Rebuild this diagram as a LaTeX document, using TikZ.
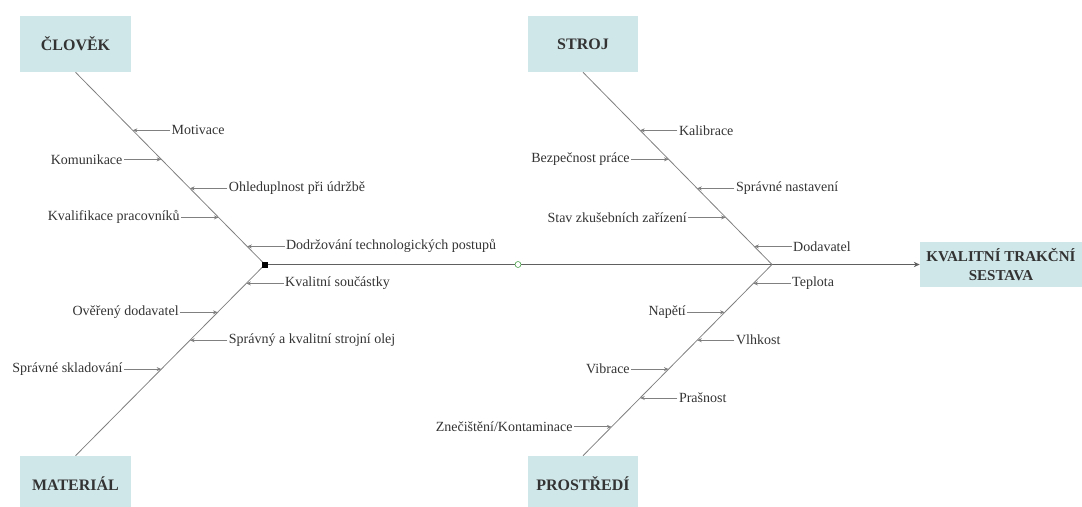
\documentclass[tikz,border=0pt]{standalone}
\usepackage{fontspec}
\setmainfont{Liberation Serif}
\usetikzlibrary{positioning,arrows.meta}

\definecolor{boxteal}{HTML}{D0E7E9}
\definecolor{textgray}{HTML}{333333}
\definecolor{bonegray}{HTML}{808080}
\definecolor{spinegray}{HTML}{606060}
\definecolor{markgreen}{HTML}{3C9A3C}

\begin{document}
\begin{tikzpicture}[x=0.75pt,y=-0.75pt]
    \tikzset{category/.style = {fill=boxteal, text=textgray,
        font=\bfseries\fontsize{12}{14}\selectfont,
        minimum width=83pt, minimum height=42pt, inner sep=0pt},
      cause/.style    = {text=textgray, font=\fontsize{10.5}{12}\selectfont, inner sep=1pt},
      bone/.style     = {draw=bonegray, line width=0.6pt},
      sub/.style      = {draw=bonegray, line width=0.6pt, -{Stealth[length=3.5pt,width=3pt]}},
      spine/.style    = {draw=spinegray, line width=1.1pt, -{Stealth[length=4.5pt,width=4pt]}}}

    \def\Arm{28pt};
    \useasboundingbox (0,0) rectangle (1082,507);

    % Draw the category boxes and the effect.
    \node[category] (clovek)    at (75.5,44)  {ČLOVĚK};
    \node[category] (stroj)     at (583,44)   {STROJ};
    \node[category] (material)  at (75.5,484) {MATERIÁL};
    \node[category] (prostredi) at (583,484)  {PROSTŘEDÍ};
    \node[category, font=\bfseries\fontsize{11.3}{14}\selectfont,
      minimum width=121.5pt, minimum height=34pt, align=center]
      (effect) at (1001,264.5) {KVALITNÍ TRAKČNÍ\\SESTAVA};

    % Draw the spine.
    \coordinate (joint) at (772,264.5);
    \node[fill=black, inner sep=0pt, minimum size=4.5pt] (head) at (265,264.5) {};
    \draw[spine] (head) -- (effect);
    \node[circle, draw=markgreen, fill=white, inner sep=0pt, minimum size=4.5pt] (mark) at (518,264.5) {};

    % Draw the bones.
    \draw[bone] (clovek.south) -- (head.center)
      coordinate[pos=.302] (c1) coordinate[pos=.453] (c2) coordinate[pos=.604] (c3)
      coordinate[pos=.755] (c4) coordinate[pos=.906] (c5);
    \draw[bone] (head.center) -- (material.north)
      coordinate[pos=.099] (m1) coordinate[pos=.25] (m2) coordinate[pos=.396] (m3)
      coordinate[pos=.547] (m4);
    \draw[bone] (stroj.south) -- (joint)
      coordinate[pos=.302] (s1) coordinate[pos=.453] (s2) coordinate[pos=.604] (s3)
      coordinate[pos=.755] (s4) coordinate[pos=.906] (s5);
    \draw[bone] (joint) -- (prostredi.north)
      coordinate[pos=.099] (p1) coordinate[pos=.25] (p2) coordinate[pos=.396] (p3)
      coordinate[pos=.547] (p4) coordinate[pos=.698] (p5) coordinate[pos=.849] (p6);
    \node[fill=black, inner sep=0pt, minimum size=4.5pt] at (head) {};

    % Causes of ČLOVĚK.
    \node[cause, right=\Arm of c1] (motivace) {Motivace};
    \node[cause, left=\Arm of c2]  (komunikace) {Komunikace};
    \node[cause, right=\Arm of c3] (ohleduplnost) {Ohleduplnost při údržbě};
    \node[cause, left=\Arm of c4]  (kvalifikace) {Kvalifikace pracovníků};
    \node[cause, right=\Arm of c5] (postupy) {Dodržování technologických postupů};
    \draw[sub] (motivace) -- (c1);
    \draw[sub] (komunikace) -- (c2);
    \draw[sub] (ohleduplnost) -- (c3);
    \draw[sub] (kvalifikace) -- (c4);
    \draw[sub] (postupy) -- (c5);

    % Causes of MATERIÁL.
    \node[cause, right=\Arm of m1] (soucastky) {Kvalitní součástky};
    \node[cause, left=\Arm of m2]  (overeny) {Ověřený dodavatel};
    \node[cause, right=\Arm of m3] (olej) {Správný a kvalitní strojní olej};
    \node[cause, left=\Arm of m4]  (skladovani) {Správné skladování};
    \draw[sub] (soucastky) -- (m1);
    \draw[sub] (overeny) -- (m2);
    \draw[sub] (olej) -- (m3);
    \draw[sub] (skladovani) -- (m4);

    % Causes of STROJ.
    \node[cause, right=\Arm of s1] (kalibrace) {Kalibrace};
    \node[cause, left=\Arm of s2]  (bezpecnost) {Bezpečnost práce};
    \node[cause, right=\Arm of s3] (nastaveni) {Správné nastavení};
    \node[cause, left=\Arm of s4]  (zarizeni) {Stav zkušebních zařízení};
    \node[cause, right=\Arm of s5] (dodavatel) {Dodavatel};
    \draw[sub] (kalibrace) -- (s1);
    \draw[sub] (bezpecnost) -- (s2);
    \draw[sub] (nastaveni) -- (s3);
    \draw[sub] (zarizeni) -- (s4);
    \draw[sub] (dodavatel) -- (s5);

    % Causes of PROSTŘEDÍ.
    \node[cause, right=\Arm of p1] (teplota) {Teplota};
    \node[cause, left=\Arm of p2]  (napeti) {Napětí};
    \node[cause, right=\Arm of p3] (vlhkost) {Vlhkost};
    \node[cause, left=\Arm of p4]  (vibrace) {Vibrace};
    \node[cause, right=\Arm of p5] (prasnost) {Prašnost};
    \node[cause, left=\Arm of p6]  (kontaminace) {Znečištění/Kontaminace};
    \draw[sub] (teplota) -- (p1);
    \draw[sub] (napeti) -- (p2);
    \draw[sub] (vlhkost) -- (p3);
    \draw[sub] (vibrace) -- (p4);
    \draw[sub] (prasnost) -- (p5);
    \draw[sub] (kontaminace) -- (p6);
\end{tikzpicture}
\end{document}
